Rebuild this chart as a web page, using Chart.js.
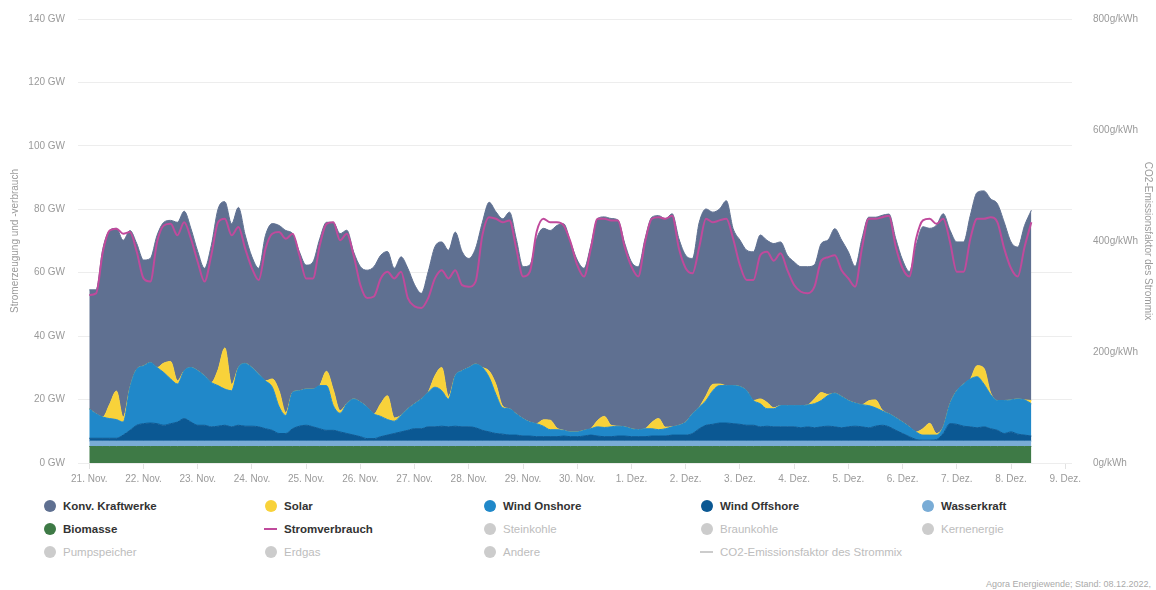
<!DOCTYPE html>
<html>
<head>
<meta charset="utf-8">
<script src="https://cdn.jsdelivr.net/npm/chart.js@4.4.0/dist/chart.umd.min.js"></script>
<style>
  html, body { margin: 0; padding: 0; background: #ffffff; }
  body { font-family: 'Liberation Sans', Arial, sans-serif; }
  #wrap { position: relative; width: 1156px; height: 590px; overflow: hidden; }
  #chart { position: absolute; left: 0; top: 0; }
  .lg { position: absolute; font-size: 11.5px; line-height: 14px; white-space: nowrap; }
  .lg.on { color: #333333; font-weight: bold; }
  .lg.off { color: #bdbdbd; }
  .mk { position: absolute; }
  #foot { position: absolute; left: 986px; top: 579px; font-size: 9px; color: #aaaaaa; white-space: nowrap; }
</style>
</head>
<body>
<div id="wrap">
  <canvas id="chart" width="1156" height="490"></canvas>
  <div id="legend"></div>
  <div id="foot">Agora Energiewende; Stand: 08.12.2022, </div>
</div>
<script>
// ---- time axis: 3-hour steps from 21. Nov. 00:00 (hour 0) ----
const stepHours = 3;
const tickHours = [0, 24, 48, 72, 96, 120, 144, 168, 192, 216, 240, 264, 288, 312, 336, 360, 384, 408, 432];
const tickLabels = ['21. Nov.', '22. Nov.', '23. Nov.', '24. Nov.', '25. Nov.', '26. Nov.', '27. Nov.', '28. Nov.', '29. Nov.', '30. Nov.',
                    '1. Dez.', '2. Dez.', '3. Dez.', '4. Dez.', '5. Dez.', '6. Dez.', '7. Dez.', '8. Dez.', '9. Dez.'];
const yTicksLeft = [0, 20, 40, 60, 80, 100, 120, 140];
const yTicksRight = [0, 200, 400, 600, 800];

// ---- series values in GW (each row = one day, 8 values at 0,3,...,21 h) ----
const biomasse = [
  5.2,5.2,5.2,5.2,5.2,5.2,5.2,5.2, 5.2,5.2,5.2,5.2,5.2,5.2,5.2,5.2, 5.2,5.2,5.2,5.2,5.2,5.2,5.2,5.2,
  5.2,5.2,5.2,5.2,5.2,5.2,5.2,5.2, 5.2,5.2,5.2,5.2,5.2,5.2,5.2,5.2, 5.2,5.2,5.2,5.2,5.2,5.2,5.2,5.2,
  5.2,5.2,5.2,5.2,5.2,5.2,5.2,5.2, 5.2,5.2,5.2,5.2,5.2,5.2,5.2,5.2, 5.2,5.2,5.2,5.2,5.2,5.2,5.2,5.2,
  5.2,5.2,5.2,5.2,5.2,5.2,5.2,5.2, 5.2,5.2,5.2,5.2,5.2,5.2,5.2,5.2, 5.2,5.2,5.2,5.2,5.2,5.2,5.2,5.2,
  5.2,5.2,5.2,5.2,5.2,5.2,5.2,5.2, 5.2,5.2,5.2,5.2,5.2,5.2,5.2,5.2, 5.2,5.2,5.2,5.2,5.2,5.2,5.2,5.2,
  5.2,5.2,5.2,5.2,5.2,5.2,5.2,5.2, 5.2,5.2,5.2,5.2,5.2,5.2,5.2,5.2, 5.2,5.2,5.2,5.2
];
const wasserkraft = [
  1.7,1.7,1.7,1.7,1.7,1.7,1.7,1.7, 1.7,1.7,1.7,1.7,1.7,1.7,1.7,1.7, 1.7,1.7,1.7,1.7,1.7,1.7,1.7,1.7,
  1.7,1.7,1.7,1.7,1.7,1.7,1.7,1.7, 1.7,1.7,1.7,1.7,1.7,1.7,1.7,1.7, 1.7,1.7,1.7,1.7,1.7,1.7,1.7,1.7,
  1.7,1.7,1.7,1.7,1.7,1.7,1.7,1.7, 1.7,1.7,1.7,1.7,1.7,1.7,1.7,1.7, 1.7,1.7,1.7,1.7,1.7,1.7,1.7,1.7,
  1.7,1.7,1.7,1.7,1.7,1.7,1.7,1.7, 1.7,1.7,1.7,1.7,1.7,1.7,1.7,1.7, 1.7,1.7,1.7,1.7,1.7,1.7,1.7,1.7,
  1.7,1.7,1.7,1.7,1.7,1.7,1.7,1.7, 1.7,1.7,1.7,1.7,1.7,1.7,1.7,1.7, 1.7,1.7,1.7,1.7,1.7,1.7,1.7,1.7,
  1.7,1.7,1.7,1.7,1.7,1.7,1.7,1.7, 1.7,1.7,1.7,1.7,1.7,1.7,1.7,1.7, 1.7,1.7,1.7,1.7
];
const windOffshore = [
  0.9,0.9,0.9,0.9,0.9,1.9,3.4,5.0,
  5.5,5.7,5.5,5.0,5.5,6.0,7.1,6.0,
  5.0,5.0,4.5,4.7,5.0,4.5,5.0,4.7,
  4.7,4.5,3.9,3.4,2.4,2.4,3.9,4.7,
  5.0,4.5,3.9,3.4,3.4,2.9,2.4,1.9,
  1.4,0.8,0.8,1.4,1.9,2.4,2.9,3.4,
  3.9,3.9,4.5,4.5,4.7,4.5,4.7,4.5,
  4.5,4.2,3.4,2.9,2.4,2.2,1.9,1.9,
  1.6,1.6,1.4,1.4,1.4,1.4,1.6,1.4,
  1.4,1.6,1.9,1.6,1.4,1.4,1.6,1.6,
  1.4,1.4,1.4,1.6,1.6,1.6,1.9,1.9,
  1.9,2.4,3.9,5.0,5.3,5.7,5.7,5.5,
  5.3,5.0,5.0,4.5,4.7,4.5,4.5,4.5,
  4.5,4.2,4.5,4.2,4.5,4.7,4.5,4.2,
  4.5,4.7,4.5,4.2,4.7,5.0,4.5,3.4,
  2.4,1.4,0.5,0.3,0.3,0.5,2.4,5.5,
  5.3,4.7,4.5,4.2,4.5,3.9,3.4,2.4,
  2.9,2.2,1.9,1.6
];
const windOnshore = [
  9.3,7.7,6.7,6.2,5.9,4.1,13.5,17.7,
  18.2,19.1,17.7,16.6,14.1,12.0,15.1,17.2,
  17.2,15.6,14.0,12.8,11.4,11.4,18.2,19.8,
  18.5,16.6,15.1,13.6,8.5,5.7,11.5,11.2,
  11.4,11.9,13.6,14.1,7.8,5.9,9.4,11.4,
  10.9,9.9,7.8,6.4,4.9,3.9,5.2,6.8,
  7.9,9.4,10.9,12.5,11.2,8.8,15.9,17.7,
  18.7,20.1,19.8,17.2,12.3,8.3,8.3,6.7,
  5.5,4.4,4.1,3.3,2.2,2.2,1.8,1.5,
  1.5,1.8,2.0,2.9,2.9,3.1,3.1,2.9,
  2.5,2.2,2.5,2.3,2.0,2.3,2.6,3.1,
  4.1,6.2,6.8,7.8,10.6,11.8,11.8,12.0,
  11.9,10.9,7.8,7.3,5.5,5.7,6.7,6.7,
  6.7,7.0,6.9,7.6,8.3,9.7,10.6,9.9,
  8.3,7.3,7.0,7.0,5.8,4.5,4.1,4.0,
  3.6,3.1,2.4,1.6,1.6,1.4,2.1,6.3,
  10.6,13.3,15.1,16.1,13.5,10.8,9.4,10.4,
  10.1,11.1,11.1,10.2
];
const solar = [
  0,0,0,4.5,9.0,1.5,0,0,
  0,0,0,3.0,5.5,1.0,0,0,
  0,0,0,5.0,13.0,2.0,0,0,
  0,0,0,2.6,5.0,0.8,0,0,
  0,0,0,4.5,5.0,0.8,0,0,
  0,0,0,4.0,7.5,1.0,0,0,
  0,0,0,3.6,7.3,0.8,0,0,
  0,0,0,2.0,3.2,0.5,0,0,
  0,0,0,2.0,3.0,0.5,0,0,
  0,0,0,2.0,3.5,0.5,0,0,
  0,0,0,2.0,3.5,0.5,0,0,
  0,0,0,1.5,2.0,0.5,0,0,
  0,0,0,1.5,2.0,0.3,0,0,
  0,0,0,1.5,2.5,0.3,0,0,
  0,0,0,1.5,2.5,0.3,0,0,
  0,0,0,2.0,3.7,0.5,0,0,
  0,0,0,3.5,5.0,0.5,0,0,
  0,0,0,1.0
];
const konvKraftwerke = [
  37.5,39.1,53.1,54.8,51.3,55.8,49.5,39.6,
  33.4,32.8,41.7,44.4,44.5,50.0,50.3,43.8,
  37.6,33.9,43.2,50.7,46.1,50.6,50.5,40.5,
  34.9,33.4,45.9,49.0,52.1,57.5,50.0,43.8,
  39.1,40.1,46.3,47.0,52.8,55.8,54.7,46.4,
  42.7,43.2,46.4,46.8,45.5,47.2,50.0,44.3,
  37.5,33.3,38.0,40.7,39.6,46.1,45.3,37.6,
  34.4,36.5,45.8,53.2,54.4,59.1,62.0,55.2,
  47.9,49.5,58.3,60.4,59.8,63.9,65.1,59.9,
  54.2,51.1,57.8,63.7,62.9,65.2,65.0,57.9,
  52.6,51.4,59.9,64.7,64.0,65.7,67.2,58.8,
  52.6,49.0,58.3,58.9,54.3,55.2,58.3,49.5,
  46.2,44.3,46.9,51.7,51.1,51.8,51.6,47.4,
  45.3,43.8,43.6,42.3,47.0,48.7,51.9,49.3,
  46.9,43.1,52.3,57.9,57.6,61.4,63.0,56.4,
  51.1,49.0,58.8,63.7,61.5,65.7,67.2,54.7,
  46.9,44.8,51.6,54.6,55.9,61.2,62.0,56.2,
  49.8,47.9,55.0,60.0
];
const stromverbrauch = [
  53.0,53.5,66.6,73.3,73.9,72.3,72.8,66.6,
  58.2,57.2,69.7,74.9,75.4,71.8,75.9,70.7,
  63.4,57.2,65.5,75.9,77.0,71.8,74.4,67.6,
  61.4,57.7,67.6,72.3,72.8,70.7,72.3,65.5,
  58.2,58.2,68.6,75.4,75.9,70.2,72.3,65.5,
  56.1,52.0,52.5,58.2,60.3,58.2,60.3,52.0,
  49.4,48.9,52.0,58.2,60.8,58.2,60.8,56.1,
  55.6,57.2,71.8,77.5,77.0,75.9,76.5,67.6,
  58.8,60.3,72.8,77.0,75.9,75.9,74.9,69.7,
  62.4,58.8,67.6,77.0,77.0,76.5,76.5,68.1,
  61.9,58.8,69.7,77.0,77.5,77.0,78.0,67.6,
  61.4,59.8,68.1,77.0,75.9,76.5,77.0,70.7,
  62.4,57.7,57.7,65.5,66.6,63.8,66.1,60.8,
  56.1,54.0,53.5,55.6,63.8,64.9,65.5,60.8,
  58.2,55.6,67.6,77.0,77.0,77.5,78.0,68.1,
  61.4,58.8,70.7,76.5,77.0,75.4,77.0,69.7,
  60.3,60.3,70.7,77.0,77.0,77.5,75.9,67.6,
  61.4,58.8,68.1,75.9
];

// ---- legend entries ----
const legendNames = [
  'Konv. Kraftwerke', 'Solar', 'Wind Onshore', 'Wind Offshore', 'Wasserkraft',
  'Biomasse', 'Stromverbrauch', 'Steinkohle', 'Braunkohle', 'Kernenergie',
  'Pumpspeicher', 'Erdgas', 'Andere', 'CO2-Emissionsfaktor des Strommix'
];
const legendActive = [true, true, true, true, true, true, true, false, false, false, false, false, false, false];
const legendIsLine = [false, false, false, false, false, false, true, false, false, false, false, false, false, true];

// ---- colours ----
const colors = {
  'Konv. Kraftwerke': '#5f7091',
  'Solar': '#f8d23a',
  'Wind Onshore': '#2088c9',
  'Wind Offshore': '#0b5893',
  'Wasserkraft': '#79acd6',
  'Biomasse': '#3e7a46',
  'Stromverbrauch': '#c04a9c'
};

function toPoints(values) {
  return values.map((v, i) => ({ x: i * stepHours, y: v }));
}

function area(label, values, fill) {
  const c = colors[label];
  return {
    label: label,
    data: toPoints(values),
    backgroundColor: c,
    borderColor: c,
    borderWidth: 1,
    fill: fill,
    pointRadius: 0,
    tension: 0.3,
    cubicInterpolationMode: 'monotone',
    stack: 'gen',
    order: 1
  };
}

const datasets = [
  area('Biomasse', biomasse, 'origin'),
  area('Wasserkraft', wasserkraft, '-1'),
  area('Wind Offshore', windOffshore, '-1'),
  area('Wind Onshore', windOnshore, '-1'),
  area('Solar', solar, '-1'),
  area('Konv. Kraftwerke', konvKraftwerke, '-1'),
  {
    label: 'Stromverbrauch',
    data: toPoints(stromverbrauch),
    borderColor: colors['Stromverbrauch'],
    backgroundColor: colors['Stromverbrauch'],
    borderWidth: 2,
    fill: false,
    pointRadius: 0,
    tension: 0.3,
    cubicInterpolationMode: 'monotone',
    stack: 'load',
    order: 0
  }
];

const CANVAS_H = 490;
const PLOT_BOTTOM = 463;

new Chart(document.getElementById('chart'), {
  type: 'line',
  data: { datasets: datasets },
  options: {
    responsive: false,
    animation: false,
    devicePixelRatio: 1,
    layout: { padding: { top: 15, left: 0, right: 0, bottom: 0 } },
    plugins: { legend: { display: false }, tooltip: { enabled: false } },
    font: { family: "'Liberation Sans', Arial, sans-serif" },
    scales: {
      x: {
        type: 'linear',
        min: -5,
        max: 435,
        afterBuildTicks: (axis) => { axis.ticks = tickHours.map(v => ({ value: v })); },
        afterFit: (scale) => { scale.height = CANVAS_H - PLOT_BOTTOM; },
        ticks: {
          autoSkip: false,
          maxRotation: 0,
          padding: 4,
          color: '#9a9a9a',
          font: { size: 10, family: "'Liberation Sans', Arial, sans-serif" },
          callback: (v) => { const i = tickHours.indexOf(v); return i >= 0 ? tickLabels[i] : ''; }
        },
        grid: { display: true, drawOnChartArea: false, drawTicks: true, tickLength: 6, color: '#e2e2e2' },
        border: { display: false }
      },
      y: {
        position: 'left',
        stacked: true,
        min: 0,
        max: 140,
        afterBuildTicks: (axis) => { axis.ticks = yTicksLeft.map(v => ({ value: v })); },
        afterFit: (scale) => { scale.width = 78; },
        ticks: {
          padding: 13,
          color: '#9a9a9a',
          font: { size: 10, family: "'Liberation Sans', Arial, sans-serif" },
          callback: (v) => v + ' GW'
        },
        grid: { color: '#ededed', drawTicks: false },
        border: { display: false },
        title: {
          display: true,
          text: 'Stromerzeugung und -verbrauch',
          color: '#9a9a9a',
          font: { size: 10, family: "'Liberation Sans', Arial, sans-serif" },
          padding: { top: 9, bottom: 0 }
        }
      },
      y2: {
        position: 'right',
        min: 0,
        max: 800,
        afterBuildTicks: (axis) => { axis.ticks = yTicksRight.map(v => ({ value: v })); },
        afterFit: (scale) => { scale.width = 84; },
        ticks: {
          padding: 13,
          color: '#9a9a9a',
          font: { size: 10, family: "'Liberation Sans', Arial, sans-serif" },
          callback: (v) => v + 'g/kWh'
        },
        grid: { display: false },
        border: { display: false },
        title: {
          display: true,
          text: 'CO2-Emissionsfaktor des Strommix',
          color: '#9a9a9a',
          font: { size: 10, family: "'Liberation Sans', Arial, sans-serif" },
          padding: { top: 2, bottom: 0 }
        }
      }
    }
  }
});

// ---- HTML legend built from the legend arrays ----
const legendCols = [50, 271, 490, 707, 928];
const legendRows = [506, 529, 552];
const legendEl = document.getElementById('legend');
legendNames.forEach((name, i) => {
  const col = legendCols[i % 5];
  const row = legendRows[Math.floor(i / 5)];
  const active = legendActive[i];
  const color = active ? colors[name] : '#cccccc';
  const mk = document.createElement('div');
  mk.className = 'mk';
  if (legendIsLine[i]) {
    mk.style.left = (col - 7) + 'px';
    mk.style.top = (row - 1) + 'px';
    mk.style.width = '13px';
    mk.style.height = '2px';
    mk.style.background = color;
  } else {
    mk.style.left = (col - 6) + 'px';
    mk.style.top = (row - 6) + 'px';
    mk.style.width = '12px';
    mk.style.height = '12px';
    mk.style.borderRadius = '50%';
    mk.style.background = color;
  }
  legendEl.appendChild(mk);
  const tx = document.createElement('div');
  tx.className = 'lg ' + (active ? 'on' : 'off');
  tx.style.left = (col + 13) + 'px';
  tx.style.top = (row - 7) + 'px';
  tx.textContent = name;
  legendEl.appendChild(tx);
});
</script>
</body>
</html>
